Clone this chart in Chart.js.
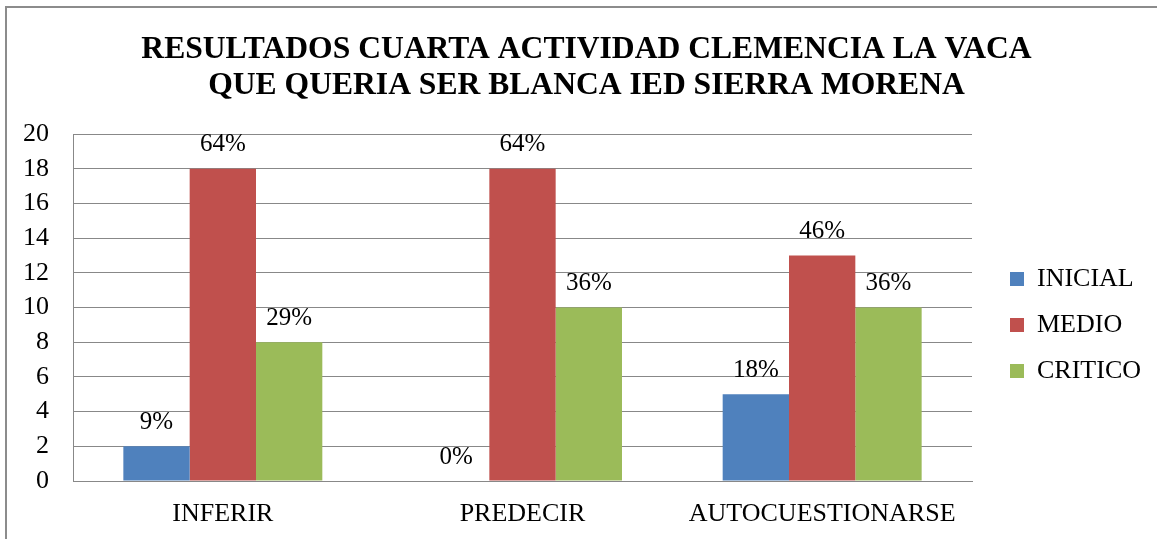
<!DOCTYPE html>
<html>
<head>
<meta charset="utf-8">
<script src="https://cdn.jsdelivr.net/npm/chart.js@4"></script>
<style>
  html, body { margin: 0; padding: 0; background: #fff; overflow: hidden; }
  #frame { position: absolute; left: 5px; top: 6px; width: 1200px; height: 600px; border: 2px solid #8c8c8c; }
  #wrap { position: absolute; left: 0; top: 0; width: 1157px; height: 539px; }
</style>
</head>
<body>
<div id="frame"></div>
<div id="wrap"><canvas id="myChart" width="1157" height="539"></canvas></div>
<script>
var categories = ["INFERIR", "PREDECIR", "AUTOCUESTIONARSE"];
var inicial = [2, 0, 5];
var medio = [18, 18, 13];
var critico = [8, 10, 10];
var inicialPct = ["9%", "0%", "18%"];
var medioPct = ["64%", "64%", "46%"];
var criticoPct = ["29%", "36%", "36%"];

var serif = "'Liberation Serif', 'Times New Roman', serif";

// percent labels above each bar
var pctLabels = {
  id: "pctLabels",
  afterDatasetsDraw: function (chart) {
    var ctx = chart.ctx;
    ctx.save();
    ctx.font = "25px " + serif;
    ctx.fillStyle = "#000";
    ctx.textAlign = "center";
    ctx.textBaseline = "middle";
    chart.data.datasets.forEach(function (ds, i) {
      var meta = chart.getDatasetMeta(i);
      meta.data.forEach(function (bar, j) {
        ctx.fillText(ds.pct[j], bar.x, bar.y - 24);
      });
    });
    ctx.restore();
  }
};

// title sits a little right of centre and the legend a bit away from the plot, like the original
var boxNudge = {
  id: "boxNudge",
  afterLayout: function (chart) {
    var lg = chart.legend;
    lg.left += 18; lg.right += 18;
    lg.top += 57; lg.bottom += 57;
    var tb = chart.titleBlock;
    tb.left += 20; tb.right += 20;
  }
};

var ctx = document.getElementById("myChart").getContext("2d");
var myChart = new Chart(ctx, {
  type: "bar",
  data: {
    labels: categories,
    datasets: [
      { label: "INICIAL", data: inicial, pct: inicialPct, backgroundColor: "#4f81bd" },
      { label: "MEDIO", data: medio, pct: medioPct, backgroundColor: "#c0504d" },
      { label: "CRITICO", data: critico, pct: criticoPct, backgroundColor: "#9bbb59" }
    ]
  },
  options: {
    responsive: false,
    animation: false,
    layout: { padding: { left: 0, right: 24, top: 8, bottom: 11 } },
    datasets: { bar: { categoryPercentage: 0.664, barPercentage: 1.0 } },
    plugins: {
      title: {
        display: true,
        text: ["RESULTADOS CUARTA ACTIVIDAD CLEMENCIA LA VACA", "QUE QUERIA SER BLANCA IED SIERRA MORENA"],
        color: "#000",
        font: { family: serif, size: 31.6, weight: "bold", lineHeight: 1.14 },
        padding: { top: 24, bottom: 30 }
      },
      legend: {
        position: "right",
        labels: {
          color: "#000",
          font: { family: serif, size: 26 },
          boxWidth: 14,
          boxHeight: 14,
          padding: 20
        }
      },
      tooltip: { enabled: false }
    },
    scales: {
      x: {
        afterFit: function (scale) { scale.height = 47; },
        grid: { display: false, drawTicks: false },
        border: { color: "#888", width: 1 },
        ticks: { color: "#000", font: { family: serif, size: 26 }, padding: 18, maxRotation: 0 }
      },
      y: {
        min: 0,
        max: 20,
        afterFit: function (scale) { scale.width = 73; },
        ticks: { stepSize: 2, autoSkip: false, color: "#000", font: { family: serif, size: 26 }, padding: 24 },
        grid: { color: "#888", drawTicks: false },
        border: { color: "#888", width: 1 }
      }
    }
  },
  plugins: [pctLabels, boxNudge]
});
</script>
</body>
</html>
